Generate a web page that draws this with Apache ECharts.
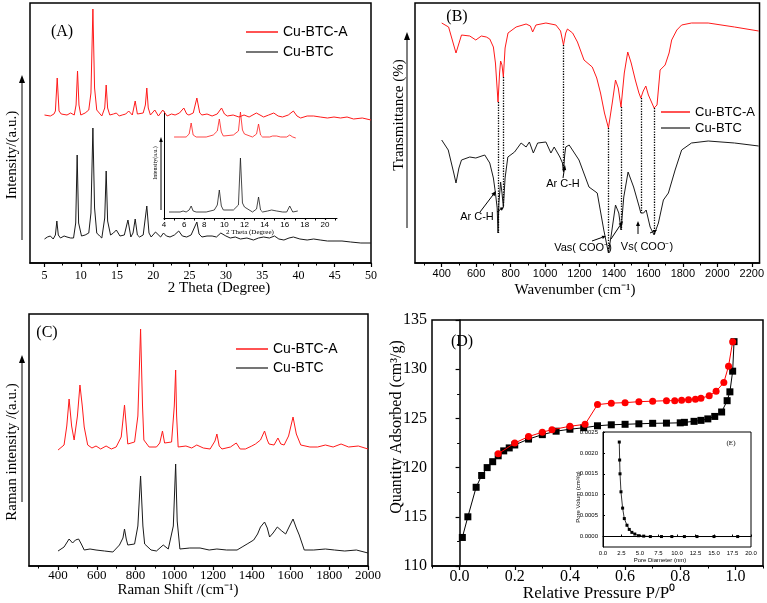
<!DOCTYPE html>
<html>
<head>
<meta charset="utf-8">
<script src="https://cdn.jsdelivr.net/npm/echarts@6/dist/echarts.min.js"></script>
<style>
  html, body { margin: 0; padding: 0; background: #fff; }
  #main { width: 767px; height: 603px; }
</style>
</head>
<body>
<div id="main"></div>
<script>
// (A) XRD, [2theta, intensity a.u.]
var xrdRed = [[5.0,148],[5.8,147],[6.3,149],[6.5,152],[6.75,185],[7.0,152],[7.3,149],[8.1,148],[8.6,150],[9.1,148],[9.35,158],[9.55,192],[9.75,158],[10.0,148],[10.6,150],[11.1,153],[11.4,170],[11.67,254],[11.9,175],[12.2,153],[12.9,147],[13.3,155],[13.5,178],[13.7,155],[14.0,148],[14.5,149],[14.9,150],[15.3,147],[15.7,148],[16.2,149],[16.6,152],[17.1,148],[17.5,162],[17.8,149],[18.0,148],[18.6,150],[18.9,158],[19.1,175],[19.3,155],[19.6,148],[20.2,153],[20.7,147],[21.3,153],[21.9,147],[22.5,149],[23.0,148],[23.6,150],[24.2,155],[24.6,149],[24.9,148],[25.5,150],[26.0,165],[26.4,150],[26.7,148],[27.4,149],[28.1,147],[28.8,149],[29.4,155],[29.8,149],[30.2,147],[31.0,148],[31.8,146],[32.5,148],[33.2,146],[34.2,150],[35.2,146],[35.9,148],[36.6,150],[37.2,147],[37.8,146],[38.6,148],[39.3,152],[39.8,147],[40.3,145],[41.2,147],[42.1,147],[43.0,146],[44.0,145],[44.9,146],[45.8,145],[46.7,146],[47.6,144],[48.8,145],[50.0,143]];
var xrdBlack = [[5.0,24],[5.4,26],[5.8,27],[6.2,24],[6.5,28],[6.7,42],[6.9,28],[7.2,25],[7.7,27],[8.1,26],[8.6,25],[9.0,25],[9.3,40],[9.5,108],[9.7,40],[10.1,27],[10.6,28],[11.1,30],[11.4,50],[11.67,135],[11.9,55],[12.2,30],[12.6,27],[12.9,25],[13.3,45],[13.5,92],[13.7,42],[14.1,28],[14.5,30],[14.9,33],[15.4,27],[16.0,28],[16.5,43],[16.9,26],[17.2,30],[17.5,44],[17.8,28],[18.1,26],[18.6,28],[19.1,57],[19.4,30],[19.7,26],[20.3,31],[21.0,26],[21.4,30],[21.8,27],[22.3,26],[22.9,28],[23.5,32],[24.0,27],[24.6,26],[25.2,28],[26.0,41],[26.3,29],[26.7,26],[27.4,27],[28.1,27],[28.7,26],[29.3,30],[30.0,27],[30.6,25],[31.3,26],[32.0,24],[32.9,25],[33.8,23],[34.5,25],[35.2,26],[36.0,25],[36.7,27],[37.3,24],[38.0,23],[38.7,25],[39.3,26],[40.2,24],[41.2,23],[42.1,24],[43.0,23],[44.0,22],[44.9,22],[46.0,22],[47.2,21],[48.6,20],[50.0,20]];
var insetRed = [[5.0,81],[5.5,81],[6.2,81],[6.5,84],[6.7,95],[6.9,83],[7.2,81],[8.2,81],[8.9,83],[9.3,87],[9.5,99],[9.7,86],[9.9,82],[10.9,83],[11.4,87],[11.6,106],[11.8,88],[12.0,84],[12.8,81],[13.2,84],[13.4,94],[13.6,83],[13.8,81],[14.5,81],[14.8,82],[15.2,82],[15.6,81],[16.2,81],[16.5,83],[16.8,81],[17.1,80]];
var insetBlack = [[4.5,6],[5.0,6],[5.6,6],[5.9,7],[6.2,6],[6.5,8],[6.7,12],[6.9,7],[7.2,6],[8.2,6],[9.0,8],[9.3,13],[9.5,28],[9.7,12],[9.9,8],[10.9,8],[11.4,13],[11.6,60],[11.8,15],[12.0,11],[12.8,6],[13.2,9],[13.4,21],[13.6,8],[13.8,6],[14.3,7],[14.7,8],[15.2,7],[15.8,6],[16.2,6],[16.5,12],[16.8,6],[17.3,7]];

// (B) FTIR, [wavenumber, transmittance a.u.]
var ftirRed = [[400,240],[440,236],[483,210],[515,228],[563,227],[598,223],[630,227],[659,226],[679,224],[700,216],[712,200],[727,161],[736,190],[742,202],[750,198],[758,186],[768,215],[785,230],[832,236],[890,239],[915,237],[928,231],[947,238],[1005,240],[1063,238],[1090,232],[1107,218],[1120,230],[1130,234],[1160,230],[1188,221],[1226,203],[1274,196],[1300,185],[1322,170],[1345,150],[1368,135],[1390,160],[1409,183],[1425,175],[1441,156],[1460,190],[1480,211],[1500,200],[1524,183],[1545,170],[1556,165],[1570,172],[1585,177],[1600,168],[1633,155],[1650,158],[1668,193],[1697,198],[1720,210],[1735,223],[1765,233],[1793,238],[1850,240],[1947,240],[2100,236],[2240,232]];
var ftirBlack = [[400,123],[438,113],[470,90],[483,80],[500,95],[515,103],[563,106],[598,105],[650,108],[679,100],[700,85],[712,70],[722,55],[727,30],[732,60],[742,81],[750,70],[758,56],[768,85],[784,106],[823,111],[861,120],[890,116],[909,121],[932,110],[957,120],[1005,121],[1034,110],[1053,116],[1086,106],[1101,100],[1107,91],[1114,108],[1120,116],[1140,118],[1197,103],[1255,76],[1303,70],[1341,33],[1368,10],[1386,30],[1409,58],[1428,50],[1441,33],[1457,66],[1482,91],[1514,76],[1547,56],[1556,50],[1572,50],[1587,53],[1610,36],[1633,28],[1658,40],[1687,63],[1716,70],[1755,93],[1793,113],[1850,120],[1947,122],[2100,120],[2240,117]];
var ftirDotX = [727, 758, 1107, 1368, 1441, 1556, 1633];

// (C) Raman, [shift, intensity a.u.]
var ramanRed = [[400,116],[431,121],[445,140],[457,167],[470,140],[483,126],[500,150],[513,181],[525,160],[535,139],[553,121],[575,118],[596,120],[620,117],[648,120],[675,117],[700,119],[726,129],[743,161],[760,122],[795,124],[812,150],[826,237],[836,160],[843,126],[870,119],[908,119],[925,123],[939,135],[950,123],[960,122],[986,124],[1000,160],[1007,196],[1012,150],[1020,119],[1060,120],[1090,118],[1116,121],[1150,118],[1185,117],[1210,125],[1220,132],[1232,120],[1246,117],[1290,119],[1320,123],[1340,117],[1367,117],[1400,120],[1419,122],[1445,126],[1466,135],[1480,126],[1489,122],[1515,121],[1535,128],[1550,122],[1567,121],[1590,130],[1613,149],[1630,132],[1653,121],[1700,119],[1740,119],[1780,121],[1820,119],[1861,122],[1900,119],[1950,120],[2000,117]];
var ramanBlack = [[400,15],[431,19],[457,27],[475,23],[490,26],[506,27],[520,22],[535,16],[565,17],[596,16],[640,15],[683,14],[717,21],[735,28],[743,37],[752,27],[760,21],[795,22],[812,40],[826,90],[838,40],[847,22],[880,16],[908,15],[943,21],[969,17],[995,40],[1007,102],[1015,45],[1029,17],[1080,18],[1133,18],[1180,16],[1220,17],[1270,16],[1324,16],[1350,19],[1376,22],[1410,26],[1430,32],[1445,39],[1466,44],[1480,38],[1492,29],[1510,33],[1532,39],[1555,35],[1575,32],[1595,40],[1613,47],[1630,38],[1645,31],[1671,16],[1720,16],[1780,17],[1827,16],[1880,15],[1940,16],[2000,13]];

// (D) N2 isotherm
var adsP = [0.01,0.03,0.06,0.08,0.10,0.12,0.14,0.16,0.18,0.20,0.25,0.30,0.35,0.40,0.45,0.50,0.55,0.60,0.65,0.70,0.75,0.80,0.815,0.85,0.875,0.90,0.925,0.95,0.97,0.98,0.99,0.995];
var adsQ = [112.9,115.0,118.0,119.2,120.0,120.6,121.2,121.7,122.0,122.3,122.9,123.35,123.7,123.9,124.05,124.25,124.35,124.4,124.45,124.5,124.52,124.55,124.6,124.7,124.8,124.95,125.2,125.65,126.8,127.7,129.8,132.8];
var desP = [0.14,0.20,0.25,0.30,0.335,0.40,0.455,0.50,0.55,0.60,0.65,0.70,0.75,0.78,0.805,0.83,0.855,0.875,0.905,0.93,0.958,0.975,0.99];
var desQ = [121.4,122.5,123.15,123.6,123.85,124.2,124.4,126.4,126.55,126.6,126.7,126.75,126.8,126.8,126.85,126.9,126.95,127.05,127.3,127.75,128.65,130.3,132.8];

// (E) pore size distribution
var poreD = [2.2,2.25,2.3,2.43,2.65,2.88,3.24,3.55,3.9,4.3,4.8,5.5,6.4,7.9,9.3,11.0,12.7,15.0,18.2];
var poreV = [0.00226,0.00183,0.0015,0.00107,0.00068,0.00043,0.00027,0.00017,0.0001,0.00006,0.00002,0.00001,0,0,0,0,0,0,0];

// tick positions
var ticksA = [5,10,15,20,25,30,35,40,45,50];
var minorA = [7.5,12.5,17.5,22.5,27.5,32.5,37.5,42.5,47.5];
var ticksAin = [4,6,8,10,12,14,16,18,20];
var minorAin = [5,7,9,11,13,15,17,19,21];
var ticksB = [400,600,800,1000,1200,1400,1600,1800,2000,2200];
var minorB = [300,500,700,900,1100,1300,1500,1700,1900,2100];
var ticksC = [400,600,800,1000,1200,1400,1600,1800,2000];
var minorC = [300,500,700,900,1100,1300,1500,1700,1900];
var ticksD = [0,0.2,0.4,0.6,0.8,1.0];
var minorD = [-0.1,0.1,0.3,0.5,0.7,0.9,1.1];
var ticksEy = [0,0.0005,0.001,0.0015,0.002,0.0025];

var names = ['Cu-BTC-A', 'Cu-BTC'];
var RED = '#ff1a1a', BLK = '#1a1a1a';
var serif = '"Liberation Serif", "Times New Roman", serif';
var sans = '"Liberation Sans", Arial, sans-serif';

function zip(a, b) { return a.map(function (v, i) { return [v, b[i]]; }); }
function yAt(arr, x) { for (var i = 0; i < arr.length; i++) if (arr[i][0] === x) return arr[i][1]; return null; }

function mainX(grid, min, max, ticks, font, size, margin, fmt) {
    return {
        type: 'value', gridIndex: grid, min: min, max: max, position: 'bottom',
        axisLine: { show: true, onZero: false, lineStyle: { color: '#000', width: 1.5 } },
        axisTick: { show: true, inside: false, length: 4, customValues: ticks, lineStyle: { color: '#000', width: 1.2 } },
        axisLabel: { show: true, customValues: ticks, margin: margin, fontFamily: font, fontSize: size, color: '#000',
            formatter: fmt || function (v) { return String(v); } },
        splitLine: { show: false }
    };
}
function minorX(grid, min, max, ticks) {
    return {
        type: 'value', gridIndex: grid, min: min, max: max, position: 'bottom', offset: 0,
        axisLine: { show: false },
        axisTick: { show: true, length: 2.5, customValues: ticks, lineStyle: { color: '#000', width: 1 } },
        axisLabel: { show: false }, splitLine: { show: false }
    };
}
function hiddenY(grid, max) {
    return { type: 'value', gridIndex: grid, min: 0, max: max, show: false };
}
function line(name, data, color, xi, yi, w) {
    return { name: name, type: 'line', data: data, xAxisIndex: xi, yAxisIndex: yi, showSymbol: false, symbol: 'none',
        silent: true, animation: false, lineStyle: { color: color, width: w || 1 }, itemStyle: { color: color } };
}
function txt(s, x, y, size, fam, rot, align) {
    return { type: 'text', x: x, y: y, rotation: rot || 0, z: 10,
        style: { text: s, fontSize: size, fontFamily: fam, fill: '#000', align: align || 'center', verticalAlign: 'middle',
            textAlign: align || 'center', textVerticalAlign: 'middle' } };
}
function seg(x1, y1, x2, y2, color, w) {
    return { type: 'line', z: 10, shape: { x1: x1, y1: y1, x2: x2, y2: y2 }, style: { stroke: color, lineWidth: w } };
}
function arrow(x1, y1, x2, y2, hl, hw) {
    var a = Math.atan2(y2 - y1, x2 - x1);
    hl = hl || 5; hw = hw || 2;
    var bx = x2 - hl * Math.cos(a), by = y2 - hl * Math.sin(a);
    var px = -Math.sin(a) * hw, py = Math.cos(a) * hw;
    return [
        seg(x1, y1, bx, by, '#000', 1),
        { type: 'polygon', z: 10, shape: { points: [[x2, y2], [bx + px, by + py], [bx - px, by - py]] }, style: { fill: '#000' } }
    ];
}
// hand-drawn legend: two rows of line + label
function legendBox(x, y1, y2, len, size) {
    return [
        seg(x, y1, x + len, y1, RED, 1.5), txt(names[0], x + len + 5, y1, size, sans, 0, 'left'),
        seg(x, y2, x + len, y2, BLK, 1.2), txt(names[1], x + len + 5, y2, size, sans, 0, 'left')
    ];
}

var chart = echarts.init(document.getElementById('main'));

var gfx = [
    txt('(A)', 62, 32, 16, serif),
    txt('(B)', 457, 17, 16, serif),
    txt('(C)', 47, 333, 16, serif),
    txt('(D)', 462, 342, 16, serif),
    txt('(E)', 731, 443, 7, serif),
    txt('2 Theta (Degree)', 219, 288, 15, serif),
    txt('Intensity/(a.u.)', 12, 155, 15, serif, Math.PI / 2),
    txt('2 Theta (Degree)', 250, 232, 7, serif),
    txt('Intensity(a.u.)', 155, 163, 6, serif, Math.PI / 2),
    txt('Wavenumber (cm\u207B\u00B9)', 575, 290, 15, serif),
    txt('Transmittance (%)', 399, 115, 15, serif, Math.PI / 2),
    txt('Raman Shift /(cm\u207B\u00B9)', 178, 590, 15, serif),
    txt('Raman intensity /(a.u.)', 12, 452, 15, serif, Math.PI / 2),
    txt('Relative Pressure P/P\u2070', 599, 594, 17, serif),
    txt('Quantity Adsorbed (cm\u00B3/g)', 397, 427, 16, serif, Math.PI / 2),
    txt('Pore Diameter (nm)', 660, 560, 6, sans),
    txt('Pore Volum (cm\u00B3/g)', 578, 497, 6, sans, Math.PI / 2),
    txt('Ar C-H', 477, 217, 11, sans),
    txt('Ar C-H', 563, 184, 11, sans),
    txt('Vas( COO\u207B)', 583, 248, 11, sans),
    txt('Vs( COO\u207B)', 647, 247, 11, sans)
];
gfx = gfx.concat(legendBox(246, 32, 52, 32, 14))
    .concat(legendBox(661, 112, 128, 29, 13))
    .concat(legendBox(236, 349, 368, 32, 14))
    .concat(arrow(22, 240, 22, 75, 8, 3))
    .concat(arrow(407, 228, 407, 32, 8, 3))
    .concat(arrow(22, 502, 22, 355, 8, 3))
    .concat(arrow(161, 210, 161, 137, 5, 1.8))
    .concat(arrow(480, 212, 496, 191))
    .concat(arrow(497, 212, 504, 207, 4, 1.8))
    .concat(arrow(563, 178, 565, 165))
    .concat(arrow(592, 241, 606, 236, 4, 1.8))
    .concat(arrow(611, 239, 623, 221))
    .concat(arrow(638, 234, 638, 221))
    .concat(arrow(650, 233, 657, 230, 4, 1.8));

var option = {
    backgroundColor: '#fff',
    animation: false,
    grid: [
        { left: 30, top: 3, width: 341, height: 260, show: true, borderColor: '#000', borderWidth: 1.5, backgroundColor: 'transparent' },
        { left: 164, top: 112, width: 173, height: 106 },
        { left: 415, top: 3, width: 346, height: 260, show: true, borderColor: '#000', borderWidth: 1.5, backgroundColor: 'transparent' },
        { left: 29, top: 314, width: 339, height: 252, show: true, borderColor: '#000', borderWidth: 1.5, backgroundColor: 'transparent' },
        { left: 432, top: 320, width: 331, height: 246, show: true, borderColor: '#000', borderWidth: 1.5, backgroundColor: 'transparent' },
        { left: 603, top: 432, width: 148, height: 115, show: true, borderColor: '#000', borderWidth: 1, backgroundColor: '#fff' }
    ],
    xAxis: [
        mainX(0, 3, 50, ticksA, serif, 12, 7),
        minorX(0, 3, 50, minorA),
        (function () {
            var a = mainX(1, 4, 21.2, ticksAin, sans, 8, 3);
            a.axisLine.lineStyle.width = 1; a.axisTick.length = 2; return a;
        })(),
        minorX(1, 4, 21.2, minorAin),
        mainX(2, 245, 2245, ticksB, sans, 11, 5),
        minorX(2, 245, 2245, minorB),
        mainX(3, 250, 2000, ticksC, serif, 13, 3),
        minorX(3, 250, 2000, minorC),
        mainX(4, -0.1, 1.1, ticksD, serif, 16, 3, function (v) { return v.toFixed(1); }),
        minorX(4, -0.1, 1.1, minorD),
        {
            type: 'value', gridIndex: 5, min: 0, max: 20, interval: 2.5, position: 'bottom',
            axisLine: { lineStyle: { color: '#000', width: 1 } },
            axisTick: { inside: true, length: 2, lineStyle: { color: '#000' } },
            axisLabel: { fontSize: 6, fontFamily: sans, color: '#000', margin: 3, formatter: function (v) { return v.toFixed(1); } },
            splitLine: { show: false }
        }
    ],
    yAxis: [
        hiddenY(0, 260),
        { type: 'value', gridIndex: 1, min: 0, max: 106, axisLine: { show: true, lineStyle: { color: '#000', width: 1 } },
            axisTick: { show: false }, axisLabel: { show: false }, splitLine: { show: false } },
        hiddenY(2, 260),
        hiddenY(3, 252),
        {
            type: 'value', gridIndex: 4, min: 110, max: 135, interval: 5,
            axisLine: { show: true, lineStyle: { color: '#000', width: 1.5 } },
            axisTick: { show: true, length: 4, lineStyle: { color: '#000', width: 1.2 } },
            minorTick: { show: true, splitNumber: 2, length: 2.5, lineStyle: { color: '#000' } },
            axisLabel: { fontFamily: serif, fontSize: 16, color: '#000', margin: 5 },
            splitLine: { show: false }
        },
        {
            type: 'value', gridIndex: 5, min: -0.00025, max: 0.0025,
            axisLine: { show: true, lineStyle: { color: '#000', width: 1 } },
            axisTick: { inside: true, length: 2, customValues: ticksEy, lineStyle: { color: '#000' } },
            axisLabel: { customValues: ticksEy, fontSize: 6, fontFamily: sans, color: '#000', margin: 5,
                formatter: function (v) { return v.toFixed(4); } },
            splitLine: { show: false }
        }
    ],
    graphic: gfx,
    series: [
        line('Cu-BTC-A', xrdRed, RED, 0, 0),
        line('Cu-BTC', xrdBlack, BLK, 0, 0),
        line('insetRed', insetRed, RED, 2, 1, 0.8),
        line('insetBlack', insetBlack, BLK, 2, 1, 0.8),
        (function () {
            var s = line('Cu-BTC-A', ftirRed, RED, 4, 2);
            s.markLine = {
                silent: true, symbol: 'none', label: { show: false }, animation: false,
                lineStyle: { color: '#000', type: 'dotted', width: 1.3 },
                data: ftirDotX.map(function (x) {
                    return [{ coord: [x, yAt(ftirRed, x)] }, { coord: [x, yAt(ftirBlack, x)] }];
                })
            };
            return s;
        })(),
        line('Cu-BTC', ftirBlack, BLK, 4, 2),
        line('Cu-BTC-A', ramanRed, RED, 6, 3),
        line('Cu-BTC', ramanBlack, BLK, 6, 3),
        {
            name: 'ads', type: 'line', xAxisIndex: 8, yAxisIndex: 4, data: zip(adsP, adsQ), symbol: 'rect', symbolSize: 7,
            lineStyle: { color: '#000', width: 1 }, itemStyle: { color: '#000' }, z: 3, silent: true
        },
        {
            name: 'des', type: 'line', xAxisIndex: 8, yAxisIndex: 4, data: zip(desP, desQ), symbol: 'circle', symbolSize: 7,
            lineStyle: { color: '#ff0000', width: 1 }, itemStyle: { color: '#ff0000' }, z: 4, silent: true
        },
        {
            name: 'pore', type: 'line', xAxisIndex: 10, yAxisIndex: 5, data: zip(poreD, poreV), symbol: 'rect', symbolSize: 3,
            lineStyle: { color: '#000', width: 0.8 }, itemStyle: { color: '#000' }, z: 5, silent: true
        }
    ]
};
chart.setOption(option);
</script>
</body>
</html>
